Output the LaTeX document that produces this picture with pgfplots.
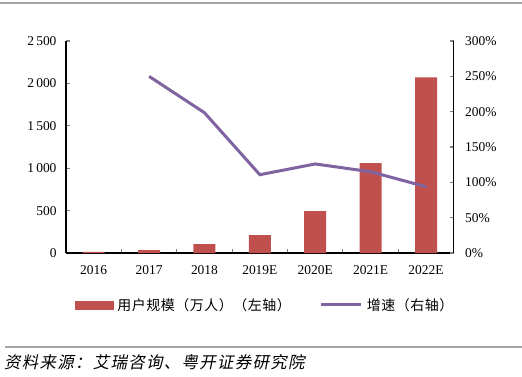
\documentclass[border=0pt]{standalone}
\usepackage{fontspec}
\setmainfont{Liberation Serif}
\newfontfamily\cjk{Noto Sans CJK SC}[LetterSpace=4]
\newfontfamily\cjksl{Noto Sans CJK SC}[FakeSlant=0.2,LetterSpace=8]
\usepackage{pgfplots}
\pgfplotsset{compat=1.18}
\definecolor{barred}{HTML}{C0504D}
\definecolor{linepurple}{HTML}{8064A2}
\definecolor{rulegray}{HTML}{A6A6A6}
\pgfplotsset{
  barlegend/.style={legend image code/.code={\fill[barred] (0bp,-4bp) rectangle (38bp,4bp);\path (40bp,0bp);}},
  linelegend/.style={legend image code/.code={\draw[linepurple, line width=3bp] (0bp,0bp) -- (40bp,0bp);\path (42bp,0bp);}},
}

\begin{document}
\begin{tikzpicture}[x=1bp,y=1bp]
\path[use as bounding box] (0,0) rectangle (522,376);
\draw[rulegray, line width=2.2bp] (0,373) -- (522,373);
\draw[rulegray, line width=2bp] (5,29) -- (522,29);
\node[anchor=west, inner sep=0] at (4,14) {\cjksl\fontsize{16.5}{17}\selectfont 资料来源：艾瑞咨询、粤开证券研究院};

\begin{axis}[
  at={(66bp,123bp)}, anchor=south west,
  scale only axis, width=387.7bp, height=212bp,
  xmin=-0.5, xmax=6.5, ymin=0, ymax=2500,
  axis y line*=left, axis x line*=bottom,
  axis line style={line width=1.1bp},
  xtick={0,...,6},
  xticklabels={2016,2017,2018,2019E,2020E,2021E,2022E},
  major x tick style={draw=none},
  minor xtick={0.5,1.5,2.5,3.5,4.5,5.5},
  minor tick length=4bp,
  minor tick style={line width=1.1bp},
  ytick={0,500,1000,1500,2000,2500},
  tick align=inside,
  major tick length=4bp,
  major tick style={line width=1.1bp},
  /pgf/number format/assume math mode=true,
  /pgf/number format/1000 sep={\,},
  ticklabel style={font=\fontsize{13.5}{13.5}\selectfont},
  yticklabel style={xshift=-6bp},
  xticklabel style={yshift=-9bp},
]
\addplot[ybar, bar width=22bp, fill=barred, draw=none] coordinates {(0,12) (1,35) (2,106) (3,212) (4,495) (5,1061) (6,2072)};
\end{axis}

\begin{axis}[
  at={(66bp,123bp)}, anchor=south west,
  scale only axis, width=387.7bp, height=212bp,
  xmin=-0.5, xmax=6.5, ymin=0, ymax=3,
  axis y line*=right, axis x line=none,
  axis line style={line width=1.1bp},
  ytick={0,0.5,1,1.5,2,2.5,3},
  yticklabels={0\%,50\%,100\%,150\%,200\%,250\%,300\%},
  tick align=inside,
  major tick length=4bp,
  major tick style={line width=1.1bp},
  ticklabel style={font=\fontsize{13.5}{13.5}\selectfont},
  yticklabel style={xshift=8bp},
  legend columns=2,
  legend style={at={(0.015,-0.245)}, anchor=west, draw=none, fill=none,
    font=\cjk\fontsize{14}{15}\selectfont,
    /tikz/every even column/.append style={column sep=27bp}},
]
\addlegendimage{barlegend}
\addlegendentry{用户规模（万人）（左轴）}
\addplot[linepurple, line width=3bp, linelegend]
  coordinates {(1,2.50) (2,1.985) (3,1.108) (4,1.26) (5,1.15) (6,0.938)};
\addlegendentry{增速（右轴）}
\end{axis}
\end{tikzpicture}
\end{document}
